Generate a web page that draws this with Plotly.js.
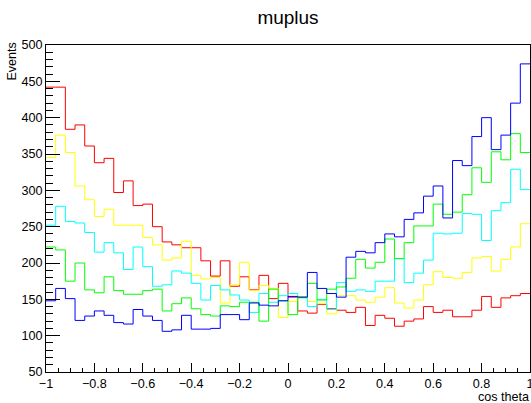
<!DOCTYPE html>
<html>
<head>
<meta charset="utf-8">
<script src="https://cdn.plot.ly/plotly-3.0.1.min.js"></script>
<style>html,body{margin:0;padding:0;background:#fff;}#chart{width:531px;height:403px;}</style>
</head>
<body>
<div id="chart"></div>
<script>
// Histogram binning (cos theta from -1 to 1, 50 bins)
const xMin = -1, xMax = 1, nBins = 50;

// Bin contents, one per series
const redVals = [442,442,384,390,361,338,344,297,313,279,281,250,229,225,221,221,203,182,203,168,181,163,183,151,172,153,134,131,143,137,135,132,139,114,128,124,113,120,123,140,132,135,126,126,135,154,139,152,155,158];
const yellowVals = [345,376,352,306,287,264,274,252,252,252,235,225,204,207,230,183,178,180,145,170,201,162,169,165,125,147,154,147,144,130,155,155,149,146,153,166,145,138,149,170,188,180,179,187,207,209,189,205,222,254];
const cyanVals = [252,278,257,255,242,215,228,214,191,222,195,168,170,189,186,172,149,169,163,156,149,132,158,146,155,158,152,140,150,136,173,161,163,161,175,175,206,173,186,204,241,240,241,268,267,231,272,283,329,301];
const greenVals = [222,218,175,200,163,159,181,162,157,157,162,164,134,144,152,137,129,127,141,140,146,146,120,164,148,129,153,172,149,164,167,179,205,193,201,233,206,228,251,251,281,267,270,294,331,311,353,342,378,352];
const blueVals = [148,165,151,121,127,134,128,118,116,136,127,121,106,108,128,109,109,110,129,129,122,145,142,141,148,154,153,187,165,158,153,208,216,214,228,240,236,260,269,292,306,262,341,334,374,400,356,376,420,474];

const seriesNames = ['red','yellow','cyan','green','blue'];
const seriesColors = ['#ff0000','#ffff00','#00ffff','#00ff00','#0000ff'];
const seriesVals = [redVals, yellowVals, cyanVals, greenVals, blueVals];

const edges = [];
for (let i = 0; i <= nBins; i++) edges.push(xMin + i * (xMax - xMin) / nBins);

const traces = seriesVals.map((vals, k) => ({
  type: 'scatter',
  mode: 'lines',
  name: seriesNames[k],
  x: edges,
  y: vals.concat([vals[vals.length - 1]]),
  line: {shape: 'hv', width: 1, color: seriesColors[k]},
  hoverinfo: 'skip'
}));

const font = {family: 'Liberation Sans, Arial, sans-serif', color: '#000'};

const layout = {
  width: 531, height: 403,
  margin: {l: 46, r: 1, t: 45, b: 31, pad: 0},
  paper_bgcolor: '#fff', plot_bgcolor: '#fff',
  showlegend: false,
  title: {text: 'muplus', font: Object.assign({size: 19}, font), x: 0.5, xref: 'paper', xanchor: 'center', y: 0.958, yref: 'container', yanchor: 'middle'},
  xaxis: {
    range: [xMin, xMax], showgrid: false, zeroline: false,
    showline: true, linecolor: '#000', linewidth: 1, mirror: true,
    ticks: 'inside', ticklen: 9, tickcolor: '#000', tickwidth: 1,
    tickmode: 'linear', tick0: -1, dtick: 0.2,
    ticklabeloverflow: 'allow',
    minor: {ticks: 'inside', ticklen: 4.5, dtick: 0.05, tickcolor: '#000', showgrid: false},
    tickfont: Object.assign({size: 12.6}, font)
  },
  yaxis: {
    range: [50, 500], showgrid: false, zeroline: false,
    showline: true, linecolor: '#000', linewidth: 1, mirror: true,
    ticks: 'inside', ticklen: 14, tickcolor: '#000', tickwidth: 1,
    tickmode: 'linear', tick0: 50, dtick: 50,
    minor: {ticks: 'inside', ticklen: 7, dtick: 10, tickcolor: '#000', showgrid: false},
    tickfont: Object.assign({size: 12.6}, font)
  },
  annotations: [
    {text: 'Events', textangle: -90, xref: 'paper', yref: 'paper', x: -0.0702, y: 1.015, xanchor: 'center', yanchor: 'top', showarrow: false, font: Object.assign({size: 12.6}, font)},
    {text: 'cos theta', xref: 'paper', yref: 'paper', x: 1.002, y: -0.0765, xanchor: 'right', yanchor: 'middle', showarrow: false, font: Object.assign({size: 12.6}, font)}
  ]
};

Plotly.newPlot('chart', traces, layout, {staticPlot: true, displayModeBar: false});
</script>
</body>
</html>
